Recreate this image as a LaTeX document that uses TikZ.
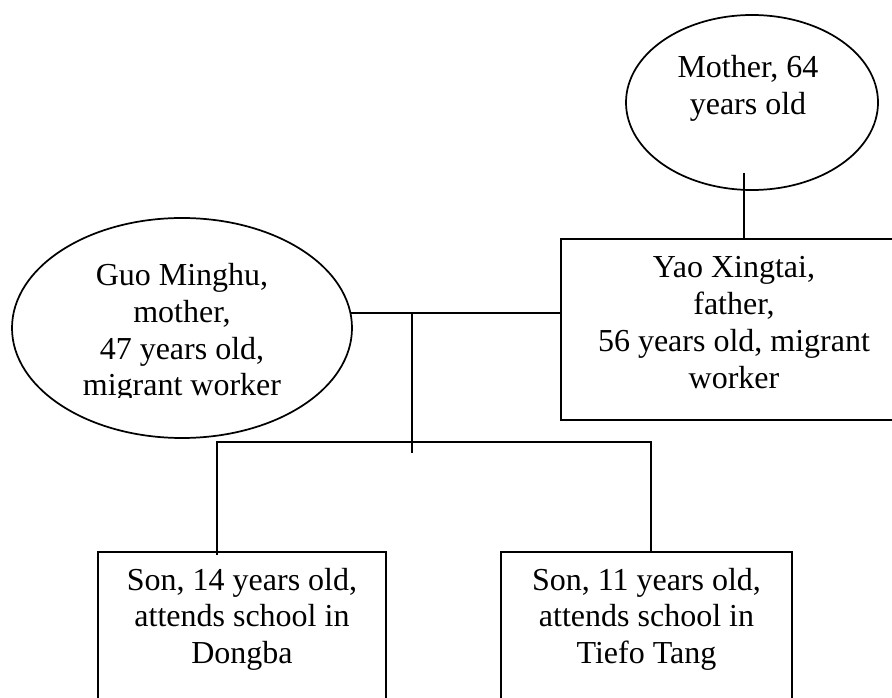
\documentclass[tikz,border=0pt]{standalone}
\usepackage{fontspec}
\setmainfont{Liberation Serif}
\usetikzlibrary{shapes.geometric}
% centred multi-line label whose baseline is that of its first line
\newcommand{\stacklines}[1]{\begin{tabular}[t]{@{}c@{}}#1\end{tabular}}
\begin{document}
\begin{tikzpicture}[x=0.75pt,y=-0.75pt,
  outline/.style={draw=black, line width=1.3pt},
  person/.style={outline, ellipse, inner sep=0pt},
  card/.style={outline, rectangle, inner sep=0pt},
  caption/.style={anchor=base, inner sep=0pt, font=\fontsize{24}{27.6}\selectfont},
  link/.style={draw=black, line width=1.3pt}]
\useasboundingbox (0,0) rectangle (892,698);
\clip (0,0) rectangle (892,698);

% family members
\node[person, minimum width=189pt, minimum height=131.25pt] (grandma) at (752,102.5) {};
\node[person, minimum width=255pt, minimum height=165pt] (mom) at (182,328) {};
\node[card, minimum width=259.5pt, minimum height=135.75pt] (father) at (734,329.5) {};
\node[card, minimum width=216pt, minimum height=156pt] (son1) at (242,656) {};
\node[card, minimum width=218.25pt, minimum height=156pt] (son2) at (646.5,656) {};

% labels
\node[caption] (grandmatext) at (748,78) {\stacklines{Mother, 64\\ years old}};
\begin{scope}
  \clip (0,0) rectangle (892,397);
  \node[caption] (momtext) at (182,285.6) {\stacklines{Guo Minghu,\\ mother,\\ 47 years old,\\ migrant worker}};
\end{scope}
\node[caption] (fathertext) at (734,278) {\stacklines{Yao Xingtai,\\ father,\\ 56 years old, migrant\\ worker}};
\node[caption] (son1text) at (242,590) {\stacklines{Son, 14 years old,\\ attends school in\\ Dongba}};
\node[caption] (son2text) at (646.5,590) {\stacklines{Son, 11 years old,\\ attends school in\\ Tiefo Tang}};

% connectors
\coordinate (gtail) at (744,173);
\coordinate (split) at (412,314);
\coordinate (tail) at (412,453);
\coordinate (barL) at (217,442);
\coordinate (barR) at (651,442);

\draw[link] (gtail) -- (gtail |- father.north);
\draw[link] (mom.5) -- (mom.5 -| father.west);
\draw[link] (split) -- (tail);
\draw[link] ([yshift=-3pt]son1.north -| barL) -- (barL) -- (barR) -- (son2.north -| barR);
\end{tikzpicture}
\end{document}
